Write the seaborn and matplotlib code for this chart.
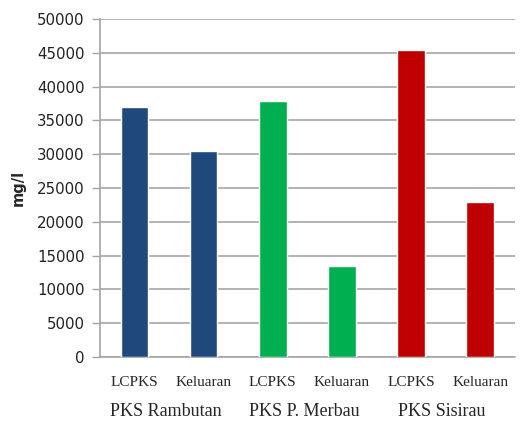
import matplotlib
matplotlib.use("Agg")
import matplotlib.pyplot as plt
import seaborn as sns
import pandas as pd

# values (mg/l)
plants = ["PKS Rambutan", "PKS Rambutan", "PKS P. Merbau", "PKS P. Merbau", "PKS Sisirau", "PKS Sisirau"]
samples = ["LCPKS", "Keluaran", "LCPKS", "Keluaran", "LCPKS", "Keluaran"]
values = [37000, 30500, 37900, 13400, 45500, 23000]
group_names = ["PKS Rambutan", "PKS P. Merbau", "PKS Sisirau"]
colors = {"PKS Rambutan": "#1F497D", "PKS P. Merbau": "#00B050", "PKS Sisirau": "#C00000"}

df = pd.DataFrame({"pos": [str(i) for i in range(len(values))], "plant": plants,
                   "sample": samples, "value": values})

sns.set_style("white")
fig = plt.figure(figsize=(5.2, 4.25), dpi=100)
ax = fig.add_axes([0.192, 0.16, 0.798, 0.795])

sns.barplot(data=df, x="pos", y="value", hue="plant", palette=colors, dodge=False,
            width=0.4, legend=False, ax=ax, saturation=1, zorder=3)

ax.set_ylim(0, 50000)
ax.set_xlim(-0.5, len(values) - 0.5)
ax.set_yticks(range(0, 50001, 5000))
ax.set_yticklabels([str(v) for v in range(0, 50001, 5000)], fontsize=10.8, color="#222222")
ax.yaxis.grid(True, color="#a6a6a6", linewidth=1.2, zorder=0)
ax.set_axisbelow(True)

ax.set_xticks(range(len(samples)))
ax.set_xticklabels(samples, fontsize=11, family="Liberation Serif")
ax.tick_params(axis="x", length=0, pad=14)
ax.tick_params(axis="y", length=6, width=1, color="#a6a6a6", left=True, pad=5)
ax.set_xlabel("")
ax.set_ylabel("mg/l", fontsize=10.5, fontweight="bold", labelpad=8)

for side in ["top", "right"]:
    ax.spines[side].set_visible(False)
for side in ["left", "bottom"]:
    ax.spines[side].set_color("#a6a6a6")
    ax.spines[side].set_linewidth(1.2)

# group labels under each pair
for g, name in enumerate(group_names):
    ax.text(2 * g + 0.45, -0.16, name, transform=ax.get_xaxis_transform(),
            ha="center", va="center", fontsize=13, family="Liberation Serif")

fig.savefig("out.png", dpi=100)
